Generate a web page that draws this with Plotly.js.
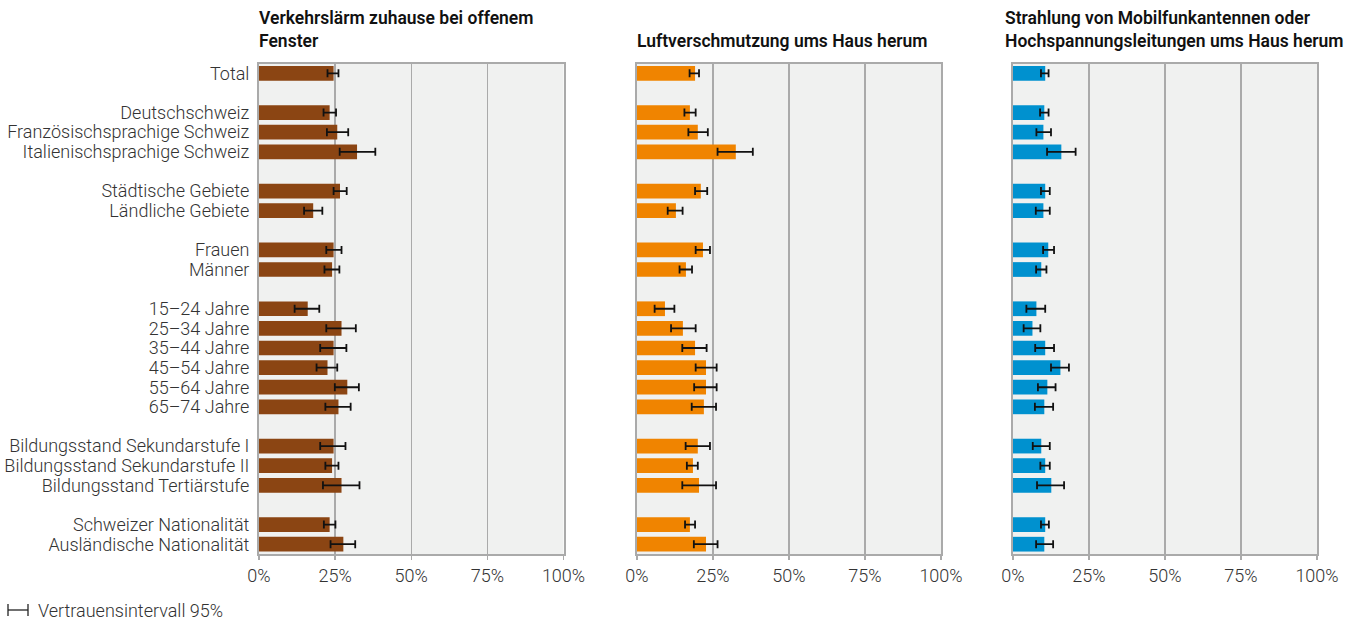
<!DOCTYPE html>
<html>
<head>
<meta charset="utf-8">
<script src="https://cdn.plot.ly/plotly-3.0.1.min.js"></script>
<style>html,body{margin:0;padding:0;background:#fff;}#chart{width:1354px;height:621px;}</style>
</head>
<body>
<div id="chart"></div>
<script>
// ---- Data ----
const categories = [
  "Total",
  "Deutschschweiz", "Französischsprachige Schweiz", "Italienischsprachige Schweiz",
  "Städtische Gebiete", "Ländliche Gebiete",
  "Frauen", "Männer",
  "15–24 Jahre", "25–34 Jahre", "35–44 Jahre", "45–54 Jahre", "55–64 Jahre", "65–74 Jahre",
  "Bildungsstand Sekundarstufe I", "Bildungsstand Sekundarstufe II", "Bildungsstand Tertiärstufe",
  "Schweizer Nationalität", "Ausländische Nationalität"
];
const groups = [0, 1,1,1, 2,2, 3,3, 4,4,4,4,4,4, 5,5,5, 6,6];

const panelTitles = [
  "Verkehrslärm zuhause bei offenem<br>Fenster",
  "Luftverschmutzung ums Haus herum",
  "Strahlung von Mobilfunkantennen oder<br>Hochspannungsleitungen ums Haus herum"
];

const laerm   = [24.5, 23.2,25.7,32.2, 26.6,17.8, 24.5,24.0, 16.0,27.1,24.5,22.5,29.0,26.1, 24.5,24.0,27.1, 23.2,27.7];
const laermLo = [22.5, 21.2,22.3,26.5, 24.5,14.8, 22.1,21.5, 11.7,22.1,20.1,18.9,24.9,21.8, 20.1,21.8,21.0, 21.3,23.5];
const laermHi = [26.1, 25.3,29.3,38.2, 28.8,20.8, 27.1,26.4, 19.8,31.8,28.7,25.7,32.8,30.1, 28.4,26.1,33.0, 25.1,31.6];

const luft    = [19.1, 17.4,20.0,32.5, 21.0,12.8, 21.7,16.1, 9.2,15.1,19.1,22.7,22.7,22.0, 20.0,18.4,20.4, 17.4,22.7];
const luftLo  = [17.3, 15.6,16.9,26.5, 19.1,10.1, 19.3,14.0, 5.8,11.2,14.9,19.3,18.8,18.0, 16.0,16.4,14.9, 15.8,18.7];
const luftHi  = [20.4, 19.3,23.3,38.1, 23.1,15.0, 24.0,18.1, 12.3,19.3,22.9,26.2,26.2,26.0, 24.0,20.0,26.0, 19.1,26.5];

const strahl   = [10.6, 10.3,10.0,15.9, 10.6,10.0, 11.6,9.3, 7.7,6.4,10.6,15.6,11.3,10.3, 9.3,10.6,12.6, 10.6,10.3];
const strahlLo = [9.2, 8.9,7.7,11.2, 9.2,7.5, 9.9,7.6, 4.4,3.5,7.3,12.5,8.2,7.2, 6.5,9.0,7.9, 9.2,7.6];
const strahlHi = [11.7, 11.7,12.5,20.6, 12.1,12.1, 13.5,11.0, 10.6,9.0,13.5,18.4,14.0,13.2, 12.1,12.1,16.8, 11.8,13.2];

const xTicks = [0, 25, 50, 75, 100];
const legendLabel = "Vertrauensintervall 95%";

// ---- Build ----
const rows = categories.map((c, i) => i + groups[i]);
const nRows = categories.length + groups[groups.length - 1];

const series = [
  {v: laerm, lo: laermLo, hi: laermHi, color: "#8B4513"},
  {v: luft, lo: luftLo, hi: luftHi, color: "#F08400"},
  {v: strahl, lo: strahlLo, hi: strahlHi, color: "#0091CF"}
];

const W = 1354, H = 621;
const xDomains = [[259/W, 563.5/W], [637/W, 941/W], [1013/W, 1317/W]];
const yDomain = [1 - 554/H, 1 - 63.5/H];
const FONT = "Roboto, 'Open Sans', sans-serif";
const tickFont = {family: FONT, size: 18, color: "#333", weight: 300};

const traces = series.map((s, k) => ({
  type: "bar",
  orientation: "h",
  x: s.v,
  y: rows,
  xaxis: k === 0 ? "x" : "x" + (k + 1),
  yaxis: k === 0 ? "y" : "y" + (k + 1),
  marker: {color: s.color, line: {width: 0}},
  error_x: {
    type: "data", symmetric: false,
    array: s.hi.map((h, i) => h - s.v[i]),
    arrayminus: s.lo.map((l, i) => s.v[i] - l),
    color: "#111", thickness: 1.8, width: 4
  },
  hoverinfo: "skip",
  showlegend: false
}));

const layout = {
  width: W, height: H,
  margin: {l: 0, r: 0, t: 0, b: 0},
  paper_bgcolor: "#fff",
  plot_bgcolor: "#F0F1F0",
  bargap: 0.25,
  font: {family: FONT, size: 15, color: "#333"},
  showlegend: false,
  annotations: [],
  shapes: []
};

for (let k = 0; k < 3; k++) {
  const sx = k === 0 ? "" : String(k + 1);
  layout["xaxis" + sx] = {
    domain: xDomains[k],
    anchor: "y" + sx,
    range: [0, 100],
    tickvals: xTicks,
    ticktext: xTicks.map(t => t + "%"),
    ticks: "outside", ticklen: 4, tickcolor: "#aaa", tickwidth: 1.5,
    showgrid: true, gridcolor: "#aaa", gridwidth: 1.5,
    showline: true, mirror: true, linecolor: "#aaa", linewidth: 2,
    zeroline: false,
    fixedrange: true,
    automargin: false,
    tickfont: tickFont
  };
  layout["yaxis" + sx] = {
    domain: yDomain,
    anchor: "x" + sx,
    range: [nRows - 0.5, -0.5],
    tickvals: rows,
    ticktext: categories,
    showticklabels: k === 0,
    ticks: "",
    ticklabelstandoff: 4,
    showgrid: false,
    showline: true, mirror: true, linecolor: "#aaa", linewidth: 2,
    zeroline: false,
    fixedrange: true,
    automargin: false,
    tickfont: tickFont
  };
  layout.annotations.push({
    xref: "paper", yref: "paper",
    x: k === 2 ? 1003 / W : xDomains[k][0] - 2 / W, y: 1 - 53 / H,
    xanchor: "left", yanchor: "bottom", align: "left",
    text: panelTitles[k],
    showarrow: false,
    font: {family: FONT, size: 17.5, color: "#111", weight: 600}
  });
}

// legend (confidence interval symbol + label)
layout.annotations.push({
  xref: "paper", yref: "paper", x: 36 / W, y: 1 - 610 / H,
  xanchor: "left", yanchor: "middle",
  text: legendLabel, showarrow: false,
  font: {family: FONT, size: 18, color: "#333", weight: 300}
});
const ly = 1 - 610 / H;
layout.shapes.push(
  {type: "line", xref: "paper", yref: "paper", x0: 8/W, x1: 28/W, y0: ly, y1: ly, line: {color: "#222", width: 1.3}},
  {type: "line", xref: "paper", yref: "paper", x0: 8/W, x1: 8/W, y0: ly - 6/H, y1: ly + 6/H, line: {color: "#222", width: 1.3}},
  {type: "line", xref: "paper", yref: "paper", x0: 28/W, x1: 28/W, y0: ly - 6/H, y1: ly + 6/H, line: {color: "#222", width: 1.3}}
);

Plotly.newPlot("chart", traces, layout, {displayModeBar: false, staticPlot: true});
</script>
</body>
</html>
